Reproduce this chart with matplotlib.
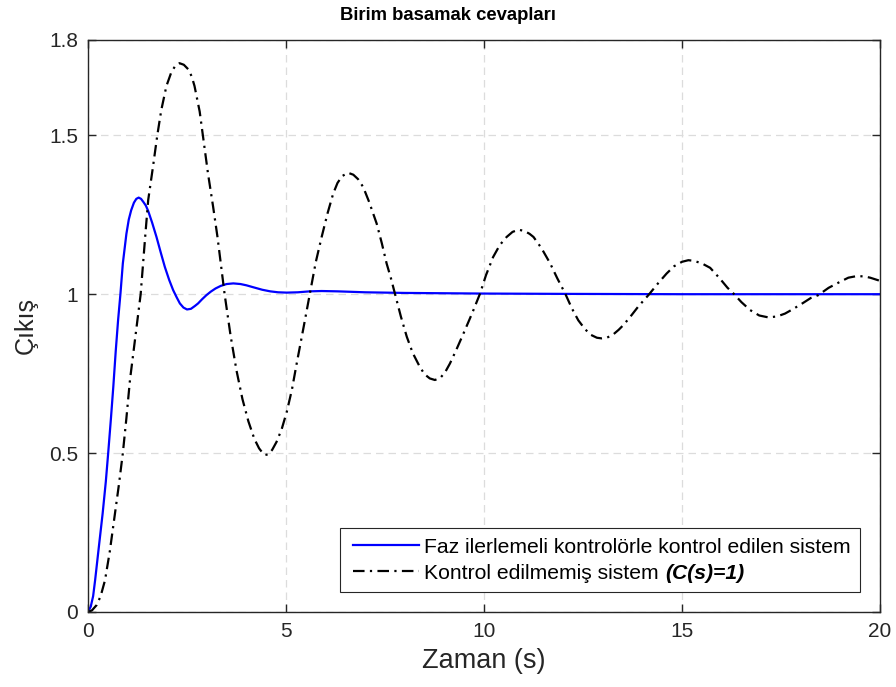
import matplotlib
matplotlib.use("Agg")
import matplotlib.pyplot as plt
from matplotlib.transforms import IdentityTransform
from matplotlib.legend_handler import HandlerLine2D

plt.rcParams['font.family'] = ['Liberation Sans', 'DejaVu Sans']

# Step response of the lead-compensated system
t_comp = [0.00, 0.07, 0.13, 0.18, 0.27, 0.37, 0.45, 0.51, 0.58, 0.64, 0.70, 0.76,
          0.82, 0.88, 0.97, 1.03, 1.09, 1.16, 1.22, 1.28, 1.34, 1.40, 1.46, 1.52,
          1.62, 1.73, 1.84, 1.94, 2.05, 2.15, 2.24, 2.32, 2.41, 2.50, 2.60, 2.70,
          2.78, 2.88, 2.99, 3.10, 3.22, 3.35, 3.50, 3.67, 3.85, 4.00, 4.17, 4.40,
          4.60, 4.80, 5.02, 5.30, 5.60, 5.90, 6.30, 7.00, 8.00, 9.00, 10.0, 12.0,
          15.0, 20.0]
y_comp = [0.000, 0.017, 0.050, 0.100, 0.200, 0.310, 0.410, 0.500, 0.610, 0.710, 0.820, 0.918,
          1.002, 1.097, 1.190, 1.235, 1.264, 1.288, 1.300, 1.304, 1.300, 1.290, 1.279, 1.262,
          1.225, 1.180, 1.130, 1.086, 1.045, 1.013, 0.990, 0.971, 0.958, 0.952, 0.954, 0.963,
          0.971, 0.984, 0.997, 1.008, 1.018, 1.026, 1.032, 1.034, 1.032, 1.028, 1.022, 1.014,
          1.009, 1.006, 1.005, 1.006, 1.009, 1.010, 1.009, 1.006, 1.004, 1.003, 1.002, 1.001,
          1.000, 1.000]

# Step response of the uncompensated system, C(s) = 1
t_open = [0.00, 0.10, 0.22, 0.32, 0.43, 0.55, 0.68, 0.78, 0.88, 0.97, 1.06, 1.20,
          1.33, 1.45, 1.52, 1.64, 1.75, 1.85, 1.98, 2.10, 2.20, 2.31, 2.42, 2.53,
          2.62, 2.69, 2.82, 2.90, 3.03, 3.16, 3.27, 3.45, 3.60, 3.75, 3.90, 4.05,
          4.20, 4.32, 4.40, 4.47, 4.55, 4.65, 4.76, 4.89, 5.02, 5.15, 5.27, 5.45,
          5.61, 5.75, 5.90, 6.05, 6.19, 6.30, 6.42, 6.57, 6.70, 6.82, 6.95, 7.10,
          7.29, 7.42, 7.54, 7.65, 7.75, 7.90, 8.05, 8.20, 8.38, 8.50, 8.63, 8.76,
          8.90, 9.02, 9.14, 9.30, 9.48, 9.70, 9.90, 10.05, 10.23, 10.40, 10.57, 10.72,
          10.87, 11.02, 11.15, 11.25, 11.45, 11.67, 11.85, 12.05, 12.22, 12.38, 12.55, 12.70,
          12.85, 12.97, 13.10, 13.25, 13.40, 13.52, 13.70, 13.90, 14.15, 14.40, 14.61, 14.80,
          15.00, 15.16, 15.30, 15.50, 15.71, 15.95, 16.15, 16.30, 16.50, 16.72, 16.95, 17.18,
          17.40, 17.60, 17.80, 18.05, 18.25, 18.44, 18.70, 18.99, 19.20, 19.41, 19.60, 19.75,
          19.90, 20.00]
y_open = [0.000, 0.005, 0.022, 0.050, 0.100, 0.190, 0.310, 0.400, 0.500, 0.610, 0.730, 0.870,
          1.000, 1.190, 1.296, 1.400, 1.500, 1.579, 1.655, 1.697, 1.718, 1.727, 1.722, 1.708,
          1.685, 1.655, 1.575, 1.500, 1.380, 1.275, 1.180, 1.000, 0.870, 0.760, 0.670, 0.600,
          0.545, 0.515, 0.502, 0.494, 0.496, 0.510, 0.535, 0.575, 0.630, 0.700, 0.782, 0.900,
          1.007, 1.100, 1.180, 1.255, 1.316, 1.350, 1.372, 1.382, 1.376, 1.362, 1.337, 1.290,
          1.222, 1.160, 1.097, 1.050, 1.002, 0.930, 0.866, 0.815, 0.771, 0.748, 0.735, 0.730,
          0.737, 0.755, 0.782, 0.825, 0.876, 0.940, 1.002, 1.060, 1.117, 1.155, 1.180, 1.196,
          1.203, 1.199, 1.190, 1.180, 1.145, 1.097, 1.050, 1.002, 0.955, 0.918, 0.890, 0.872,
          0.863, 0.861, 0.863, 0.872, 0.888, 0.903, 0.930, 0.962, 0.997, 1.035, 1.065, 1.088,
          1.102, 1.107, 1.105, 1.097, 1.083, 1.050, 1.020, 1.002, 0.975, 0.950, 0.933, 0.927,
          0.930, 0.939, 0.953, 0.972, 0.988, 0.997, 1.020, 1.039, 1.052, 1.057, 1.056, 1.052,
          1.046, 1.042]

x_ticks = [0, 5, 10, 15, 20]
y_ticks = [0, 0.5, 1, 1.5, 1.8]
y_tick_labels = ['0', '0.5', '1', '1.5', '1.8']

title_text = 'Birim basamak cevapları'
label_comp = 'Faz ilerlemeli kontrolörle kontrol edilen sistem'
label_open = 'Kontrol edilmemiş sistem'
label_open_tail = '(C(s)=1)'

axis_color = '#262626'
legend_size = 15.2

fig = plt.figure(figsize=(8.96, 6.87), dpi=100)
ax = fig.add_axes([0.0982, 0.1092, 0.8840, 0.8326])

ax.plot(t_comp, y_comp, color='#0000ff', lw=1.6, label=label_comp)
ax.plot(t_open, y_open, color='black', lw=1.6, linestyle=(0, (5.2, 2.4, 1.0, 2.4)),
        label=label_open)

ax.set_xlim(0, 20)
ax.set_ylim(0, 1.8)
ax.set_xticks(x_ticks)
ax.set_yticks(y_ticks)
ax.set_yticklabels(y_tick_labels)

ax.grid(True, color='#dcdcdc', linestyle=(0, (6, 4)), linewidth=0.9)
ax.set_axisbelow(True)
ax.tick_params(direction='in', top=True, right=True, length=5.5, width=1,
               colors=axis_color, labelsize=15, pad=7)
for spine in ax.spines.values():
    spine.set_color(axis_color)
    spine.set_linewidth(1.0)

# title centred on the figure
fig.text(0.5, 1 - 19.5 / 687, title_text, ha='center', va='baseline',
         fontsize=13.3, fontweight='bold')
ax.set_xlabel('Zaman (s)', fontsize=19.5, color=axis_color, labelpad=5)
ax.set_ylabel('Çıkış', fontsize=18, color=axis_color, labelpad=8)

leg = ax.legend(loc='lower right', fontsize=legend_size, frameon=True, fancybox=False,
                edgecolor=axis_color, framealpha=1, handlelength=3.3,
                borderaxespad=0.93, borderpad=0.45, labelspacing=0.33, handletextpad=0.25,
                handler_map={ln: HandlerLine2D(xpad=0.17) for ln in ax.get_lines()})
leg.get_frame().set_linewidth(0.8)

# bold-italic tail of the second legend entry, placed right after its text
fig.canvas.draw()
txt = leg.get_texts()[1]
bb = txt.get_window_extent()
x0, y0 = txt.get_transform().transform((0, 0))
space_px = 0.278 * legend_size * fig.dpi / 72
fig.text(bb.x1 + space_px, y0, label_open_tail, transform=IdentityTransform(),
         ha='left', va='baseline', fontsize=legend_size, fontweight='bold',
         fontstyle='italic', color='black', zorder=10)

fig.savefig('out.png', dpi=100)
